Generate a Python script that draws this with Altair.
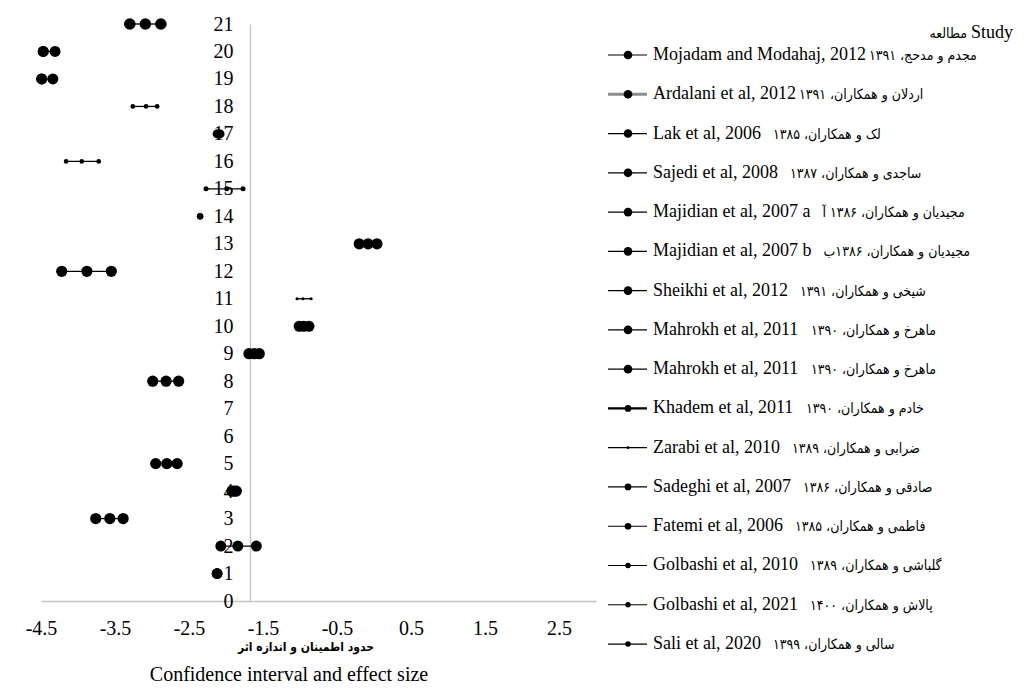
import altair as alt
import pandas as pd

FONT = "Liberation Serif"
FA_FONT = "DejaVu Sans Condensed, DejaVu Sans"

# ---------------- data ----------------
row_index = [21, 20, 19, 18, 17, 16, 15, 14, 13, 12, 11, 10, 9, 8, 5, 4, 3, 2, 1]
ci_lower = [-3.30, -4.47, -4.49, -3.26, -2.12, -4.16, -2.27, -2.35, -0.20, -4.22,
            -1.04, -1.01, -1.69, -2.99, -2.95, -1.92, -3.76, -2.07, -2.12]
effect = [-3.09, -4.47, -4.49, -3.08, -2.10, -3.95, -1.99, -2.35, -0.08, -3.88,
          -0.96, -0.95, -1.62, -2.81, -2.80, -1.89, -3.57, -1.84, -2.12]
ci_upper = [-2.88, -4.31, -4.34, -2.93, -2.08, -3.72, -1.77, -2.35, 0.04, -3.55,
            -0.85, -0.88, -1.55, -2.64, -2.66, -1.86, -3.39, -1.59, -2.12]

x_ticks = [-4.5, -3.5, -2.5, -1.5, -0.5, 0.5, 1.5, 2.5]
y_ticks = list(range(0, 22))

study_en = [
    "Mojadam and Modahaj, 2012", "Ardalani  et al, 2012", "Lak et al, 2006  ",
    "Sajedi et al, 2008  ", "Majidian et al, 2007 a  ", "Majidian et al, 2007 b  ",
    "Sheikhi et al, 2012  ", "Mahrokh et al, 2011  ", "Mahrokh et al, 2011  ",
    "Khadem et al, 2011  ", "Zarabi et al, 2010  ", "Sadeghi et al, 2007  ",
    "Fatemi et al, 2006  ", "Golbashi et al, 2010  ", "Golbashi et al, 2021  ",
    "Sali et al, 2020  ",
]
study_fa = [
    "مجدم و مدحج، ۱۳۹۱", "اردلان و همکاران، ۱۳۹۱", "لک و همکاران، ۱۳۸۵",
    "ساجدی و همکاران، ۱۳۸۷", "مجیدیان و همکاران، ۱۳۸۶ آ", "مجیدیان و همکاران، ۱۳۸۶ب",
    "شیخی و همکاران، ۱۳۹۱", "ماهرخ و همکاران، ۱۳۹۰", "ماهرخ و همکاران، ۱۳۹۰",
    "خادم و همکاران، ۱۳۹۰", "ضرابی و همکاران، ۱۳۸۹", "صادقی و همکاران، ۱۳۸۶",
    "فاطمی و همکاران، ۱۳۸۵", "گلباشی و همکاران، ۱۳۸۹", "پالاش و همکاران، ۱۴۰۰",
    "سالی و همکاران، ۱۳۹۹",
]

legend_title_en = "Study"
legend_title_fa = "مطالعه"
x_title_en = "Confidence interval  and effect size"
x_title_fa = "حدود اطمینان و اندازه اثر"

# ---------------- styles ----------------
row_marker_area = [135, 120, 120, 22, 80, 22, 25, 40, 125, 125,
                   10, 125, 125, 125, 125, 125, 125, 120, 113]
legend_line_color = ["black", "#8c8c8c"] + ["black"] * 14
legend_line_width = [1.2, 3.2] + [1.2] * 7 + [2.2] + [1.2] * 6
legend_marker_area = [75, 75, 75, 75, 75, 75, 75, 75, 75, 45, 8, 45, 45, 30, 30, 30]
LEG_FS = 18
FA_FS = 14

# Times / Liberation Serif advance widths (per 1000 em), used to place the
# Persian part of each legend entry right after its English part.
_W = {" ": 250, ",": 250, ".": 250, "-": 333}
_W.update({d: 500 for d in "0123456789"})
_W.update(dict(zip("abcdefghijklmnopqrstuvwxyz",
                   [444, 500, 444, 500, 444, 333, 500, 500, 278, 278, 500, 278, 778,
                    500, 500, 500, 500, 333, 389, 278, 500, 500, 722, 500, 500, 444])))
_W.update(dict(zip("ABCDEFGHIJKLMNOPQRSTUVWXYZ",
                   [722, 667, 667, 722, 611, 556, 722, 722, 333, 389, 722, 611, 889,
                    722, 722, 556, 722, 667, 556, 611, 722, 722, 944, 722, 722, 611])))


def text_width(s, size):
    s = " ".join(s.split())
    return sum(_W.get(c, 500) for c in s) * size / 1000.0


def trailing_gap(s, size):
    n = len(s) - len(s.rstrip(" "))
    return n * 0.25 * size + 3


# ---------------- tables ----------------
rows_df = pd.DataFrame({"row": row_index, "lo": ci_lower, "es": effect,
                        "hi": ci_upper, "msize": row_marker_area})
pts_df = rows_df.melt(id_vars=["row", "msize"], value_vars=["lo", "es", "hi"],
                      var_name="kind", value_name="val")

LEG_TEXT_X = 612
leg_df = pd.DataFrame({
    "idx": list(range(len(study_en))),
    "en": [" ".join(s.split()) for s in study_en],
    "fa": study_fa,
    "fa_x": [LEG_TEXT_X + text_width(s, LEG_FS) + trailing_gap(s, LEG_FS) for s in study_en],
    "lcolor": legend_line_color,
    "lwidth": legend_line_width,
    "msize": legend_marker_area,
})

TITLE_RIGHT = 972
title_en_x = TITLE_RIGHT
title_fa_x = TITLE_RIGHT - text_width(legend_title_en, LEG_FS) - 4

# ---------------- scales / axes ----------------
xscale = alt.Scale(domain=[-4.5, 3.0], nice=False, zero=False)
yscale = alt.Scale(domain=[0, 21], nice=False, zero=False)

x_axis = alt.Axis(
    values=x_ticks, title=None, grid=False, ticks=False, tickSize=0,
    labelExpr="datum.value < 0 ? '-' + format(-datum.value, '.1f') : format(datum.value, '.1f')",
    labelFont=FONT, labelFontSize=20, labelColor="black", labelPadding=17,
    labelFlush=False, labelOverlap=False,
    domainColor="#c4c4c4", domainWidth=1.3,
)
y_axis = alt.Axis(
    values=y_ticks, title=None, grid=False, ticks=False, tickSize=0, offset=-209,
    labelFont=FONT, labelFontSize=20, labelColor="black", labelPadding=17,
    labelFlush=False, labelOverlap=False, labelBound=False,
    domainColor="#c4c4c4", domainWidth=1.3,
)

legend_y = alt.Y("idx:Q", axis=None,
                 scale=alt.Scale(domain=[-0.789, 13.904], reverse=True, nice=False, zero=False))

# ---------------- layers ----------------
ci_lines = alt.Chart(rows_df).mark_rule(color="black", strokeWidth=1.3).encode(
    x=alt.X("lo:Q", scale=xscale, axis=x_axis),
    x2="hi:Q",
    y=alt.Y("row:Q", scale=yscale, axis=y_axis),
)

ci_points = alt.Chart(pts_df).mark_point(
    filled=True, shape="circle", color="black", opacity=1, strokeWidth=0
).encode(
    x=alt.X("val:Q", scale=xscale, axis=x_axis),
    y=alt.Y("row:Q", scale=yscale, axis=None),
    size=alt.Size("msize:Q", scale=None),
)

leg_lines = alt.Chart(leg_df).mark_rule().encode(
    x=alt.value(567), x2=alt.value(606),
    y=legend_y,
    color=alt.Color("lcolor:N", scale=None),
    strokeWidth=alt.StrokeWidth("lwidth:Q", scale=None),
)
leg_points = alt.Chart(leg_df).mark_point(
    filled=True, shape="circle", color="black", opacity=1, strokeWidth=0
).encode(
    x=alt.value(587),
    y=legend_y,
    size=alt.Size("msize:Q", scale=None),
)
leg_text_en = alt.Chart(leg_df).mark_text(
    align="left", baseline="middle", font=FONT, fontSize=LEG_FS, color="black"
).encode(x=alt.value(LEG_TEXT_X), y=legend_y, text="en:N")

leg_text_fa = alt.Chart(leg_df).mark_text(
    align="left", baseline="middle", font=FA_FONT, fontSize=FA_FS, color="black", dy=1
).encode(x=alt.X("fa_x:Q", scale=None, axis=None), y=legend_y, text="fa:N")

leg_title_en = alt.Chart(pd.DataFrame({"t": [legend_title_en]})).mark_text(
    align="right", baseline="middle", font=FONT, fontSize=LEG_FS, color="black"
).encode(x=alt.value(title_en_x), y=alt.value(9), text="t:N")

leg_title_fa = alt.Chart(pd.DataFrame({"t": [legend_title_fa]})).mark_text(
    align="right", baseline="middle", font=FA_FONT, fontSize=FA_FS, color="black", dy=1
).encode(x=alt.value(title_fa_x), y=alt.value(9), text="t:N")

title_fa = alt.Chart(pd.DataFrame({"t": [x_title_fa]})).mark_text(
    align="center", baseline="middle", font=FA_FONT, fontSize=12,
    fontWeight="bold", color="black"
).encode(x=alt.value(265), y=alt.value(623), text="t:N")

title_en = alt.Chart(pd.DataFrame({"t": [x_title_en]})).mark_text(
    align="center", baseline="alphabetic", font=FONT, fontSize=20, color="black"
).encode(x=alt.value(248), y=alt.value(657), text="t:N")

chart = (
    alt.layer(ci_lines, ci_points, leg_lines, leg_points, leg_text_en, leg_text_fa,
              leg_title_en, leg_title_fa, title_fa, title_en)
    .resolve_scale(y="independent")
    .properties(
        width=555, height=577,
        padding={"left": 33, "top": 16, "right": 420, "bottom": 86},
        autosize=alt.AutoSizeParams(type="none"),
        background="white",
    )
    .configure_view(stroke=None)
)

chart.save("out.html", embed_options={"renderer": "svg", "actions": False})
